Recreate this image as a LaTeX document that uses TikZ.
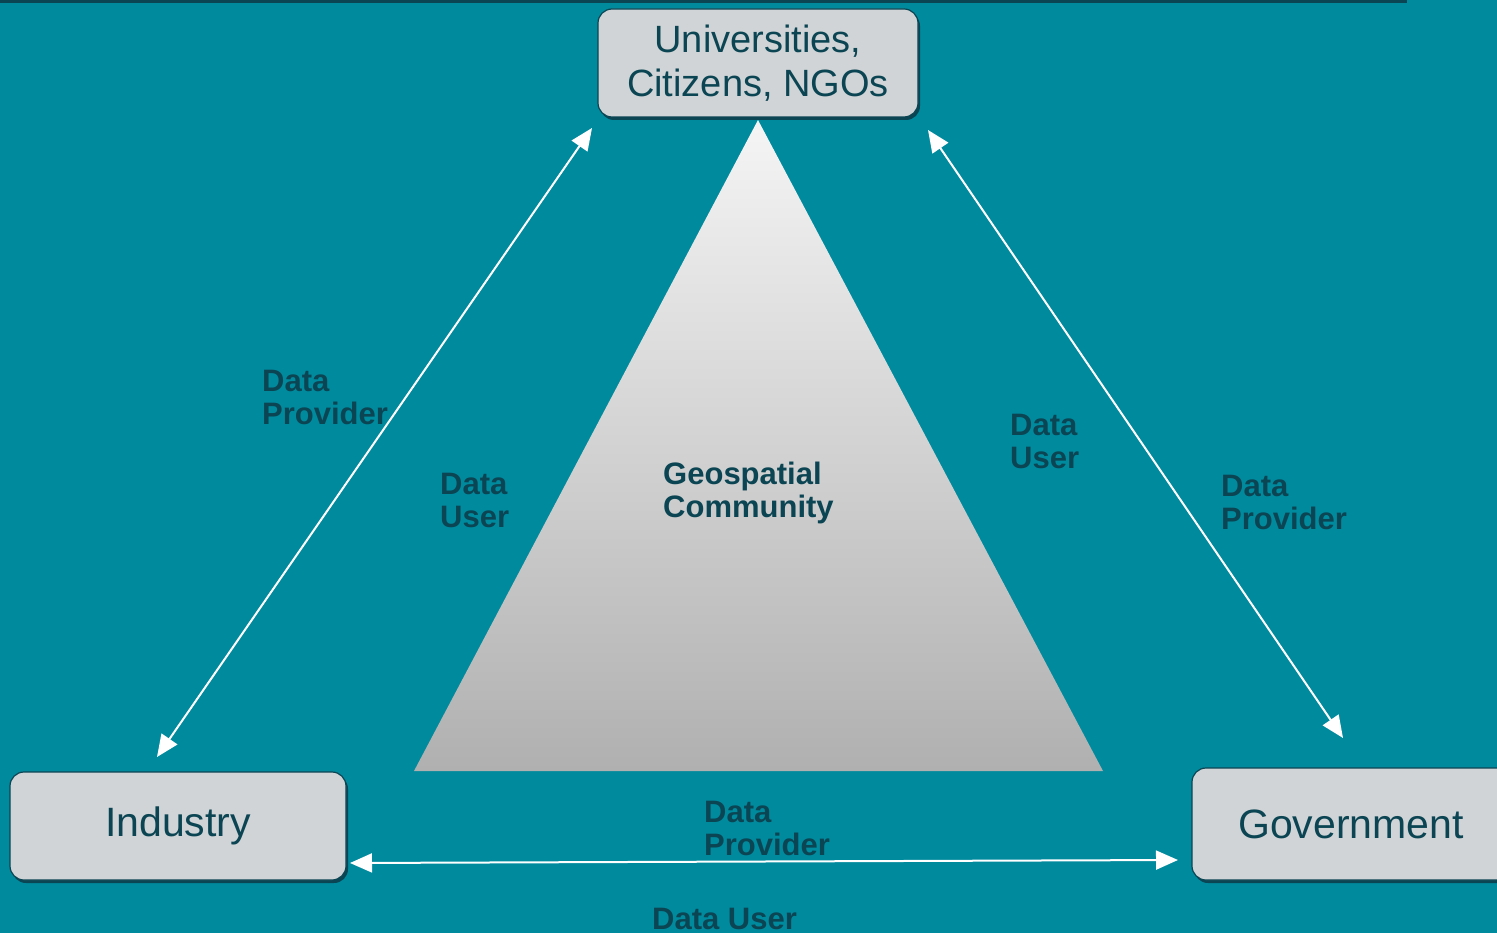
\documentclass[tikz,border=0pt]{standalone}
\usepackage{fontspec}
\setmainfont{Liberation Sans}
\usetikzlibrary{arrows.meta,shadows}

\definecolor{sea}{HTML}{008A9E}
\definecolor{deep}{HTML}{0B4553}
\definecolor{pale}{HTML}{D0D4D6}

\begin{document}
\begin{tikzpicture}[x=1pt,y=-1pt]

      \fill[sea] (0,0) rectangle (1497,933);
      \useasboundingbox (0,0) rectangle (1497,933);
      \fill[deep] (0,0) rectangle (1407,3);

      % the pyramid in the middle
      \shade[top color=black!4, bottom color=black!31]
        (758,120) -- (1103,771) -- (414,771) -- cycle;

      \begin{scope}[every node/.style={draw=deep,fill=pale,line width=1.2pt,
          rounded corners=14pt,text=deep,align=center,inner sep=0pt,
          drop shadow={shadow xshift=2pt,shadow yshift=-3pt,fill=deep,opacity=1}}]
        \node[minimum width=320pt,minimum height=108pt,font=\fontsize{38}{44}\selectfont]
          (unis) at (758,63) {Universities,\\Citizens, NGOs};
        \node[minimum width=336pt,minimum height=108pt,font=\fontsize{41}{46}\selectfont]
          (ind) at (178,826) {Industry};
        \node[minimum width=318pt,minimum height=112pt,font=\fontsize{41}{46}\selectfont]
          (gov) at (1351,824) {Government};
      \end{scope}

      \coordinate (a1) at (157,757);
      \coordinate (a2) at (592,128);
      \coordinate (b1) at (928,130);
      \coordinate (b2) at (1343,738);
      \coordinate (c1) at (350,863);
      \coordinate (c2) at (1178,860);

      \begin{scope}[every edge/.style={draw=white,line width=2pt,
          {Triangle[length=22pt,width=19pt]}-{Triangle[length=22pt,width=19pt]}}]
        \path (a1) edge (a2);
        \path (b1) edge (b2);
        \path (c1) edge (c2);
      \end{scope}

      % base west of a two-line node sits on its second line
      \begin{scope}[every node/.style={anchor=base west,align=left,inner sep=0pt,
          text=deep,font=\bfseries\fontsize{31}{33}\selectfont}]
        \node (lprov) at (262,424) {Data\\Provider};
        \node (luser) at (440,527) {Data\\User};
        \node (geo)   at (663,517) {Geospatial\\Community};
        \node (ruser) at (1010,468) {Data\\User};
        \node (rprov) at (1221,529) {Data\\Provider};
        \node (bprov) at (704,855) {Data\\Provider};
        \node (buser) at (652,929) {Data User};
      \end{scope}

\end{tikzpicture}
\end{document}
